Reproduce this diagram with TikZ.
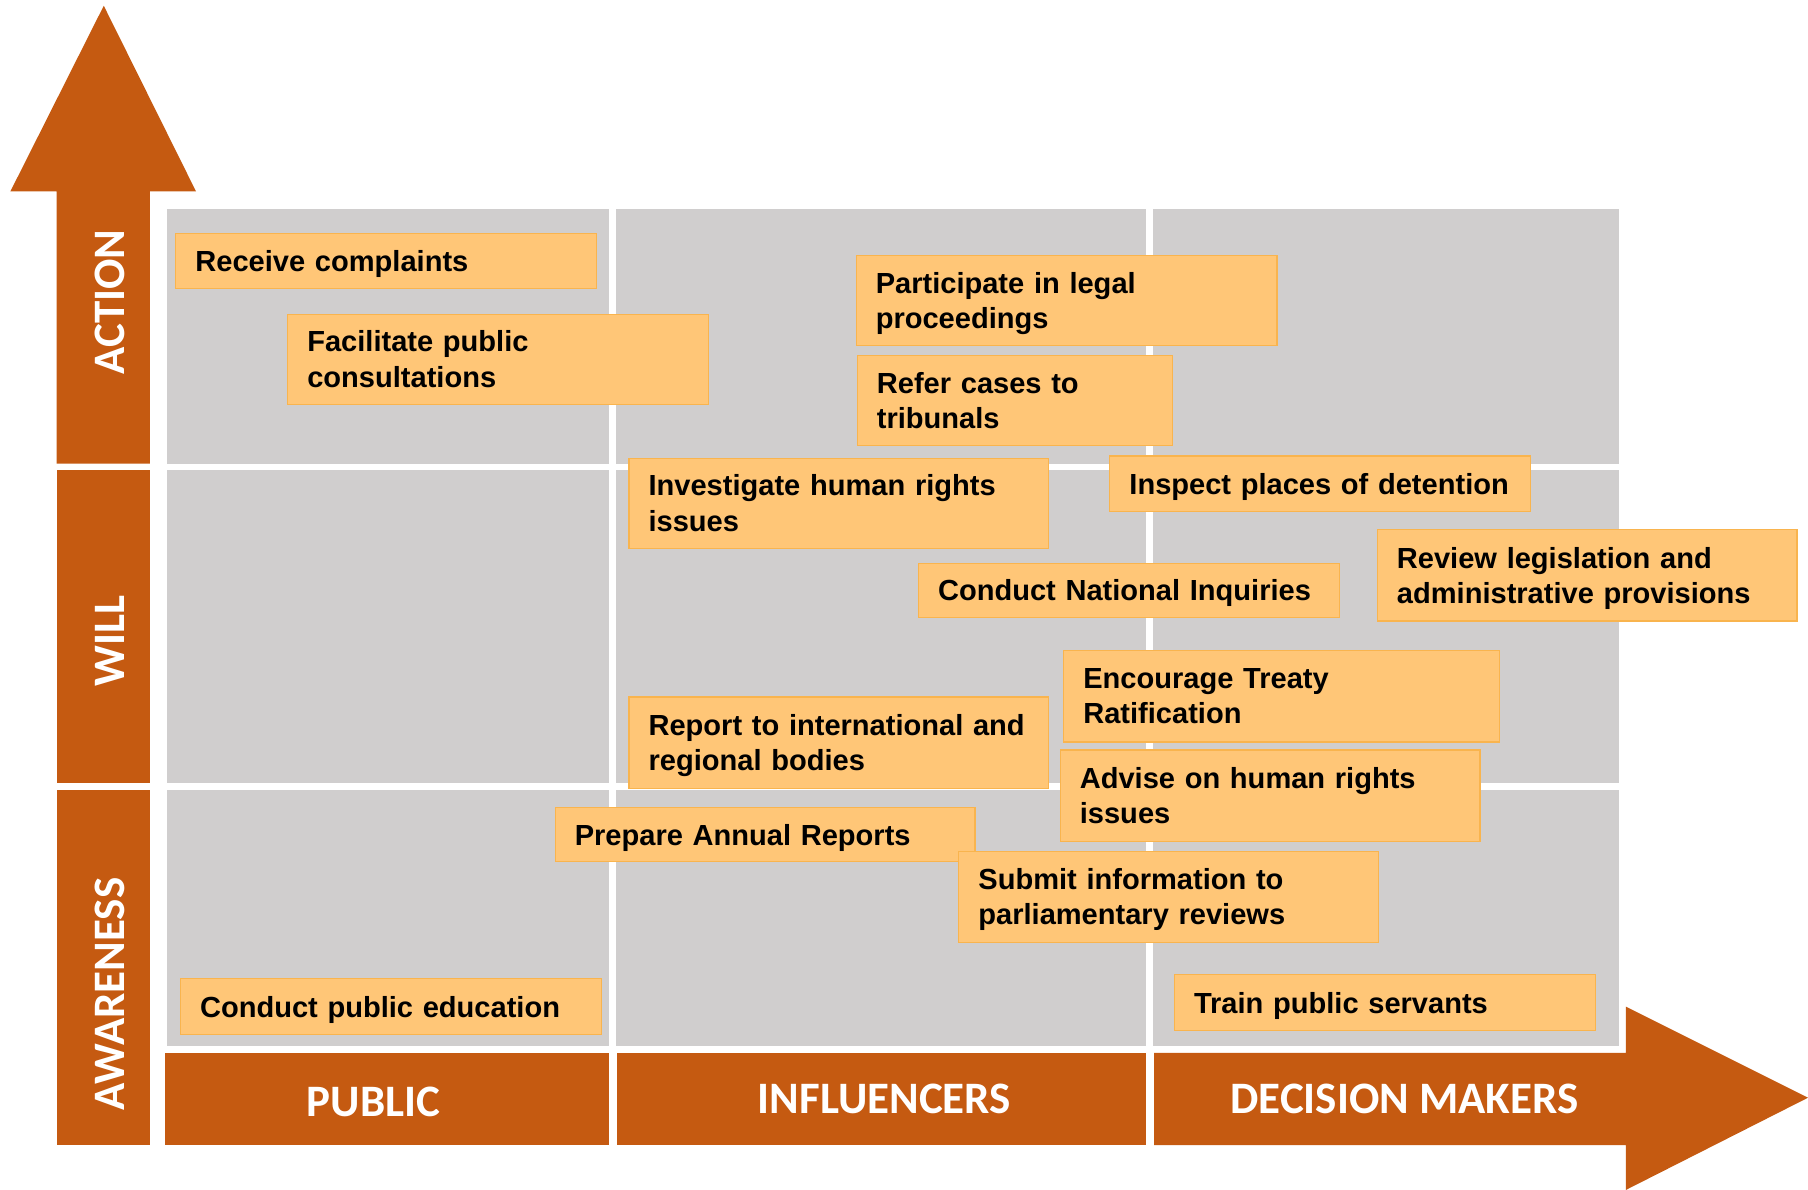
\documentclass[tikz,border=0pt]{standalone}
\usepackage{fontspec}
\setmainfont{Liberation Sans}
\newfontfamily\labfont{Carlito}
\definecolor{arrowor}{HTML}{C55A11}
\definecolor{cellgray}{HTML}{D0CECE}
\definecolor{boxfill}{HTML}{FFC677}
\definecolor{boxline}{HTML}{F9B44E}
\newcommand{\nohyph}{\hyphenpenalty=10000\relax\exhyphenpenalty=10000\relax}
\begin{document}
\begin{tikzpicture}[x=1pt,y=-1pt,
  cell/.style={fill=cellgray},
  band/.style={fill=arrowor},
  actbox/.style={draw=boxline, fill=boxfill, line width=1pt, anchor=north west,
    inner xsep=17pt, inner ysep=0pt, align=left,
    font=\nohyph\fontsize{25.2}{30.5}\selectfont\bfseries},
  oneline/.style={actbox, text depth=0pt},
  twoline/.style={actbox, text depth=31pt},
  axislab/.style={text=white, font=\labfont\fontsize{39}{40}\selectfont\bfseries, inner sep=0pt},
]
\useasboundingbox (0,0) rectangle (1568,1032);
% grid cells
\foreach \xa/\xb in {145/528,534/994,1000/1404}{
  \foreach \ya/\yb in {181/402,408/679,685/907}{
    \fill[cell] (\xa,\ya) rectangle (\xb,\yb);
  }
}
% vertical arrow
\fill[band] (49,402) -- (49,166) -- (9,166) -- (90,5) -- (170,166) -- (130,166) -- (130,402) -- cycle;
\fill[band] (49,408) rectangle (130,679);
\fill[band] (49,685) rectangle (130,993);
% horizontal arrow
\fill[band] (143,913) rectangle (528,993);
\fill[band] (535,913) rectangle (994,993);
\fill[band] (1001,913) -- (1410,913) -- (1410,873) -- (1568,952) -- (1410,1032) -- (1410,993) -- (1001,993) -- cycle;
% axis labels
\node[axislab, rotate=90] (action) at (95,262) {ACTION};
\node[axislab, rotate=90] (will) at (95,556) {WILL};
\node[axislab, rotate=90] (awareness) at (95,862) {AWARENESS};
\node[axislab] (public) at (324,956) {PUBLIC};
\node[axislab] (influencers) at (767,953) {INFLUENCERS};
\node[axislab] (decision) at (1218,953) {DECISION MAKERS};
% activity boxes
\node[oneline, minimum width=365pt, minimum height=48pt, text width=331pt] (receive) at (152,202) {Receive complaints};
\node[twoline, minimum width=365pt, minimum height=78pt, text width=331pt] (facilitate) at (249,272) {Facilitate public\\consultations};
\node[twoline, minimum width=365pt, minimum height=78pt, text width=331pt] (participate) at (742,221) {Participate in legal\\proceedings};
\node[twoline, minimum width=273pt, minimum height=78pt, text width=239pt] (refer) at (743,308) {Refer cases to\\tribunals};
\node[twoline, minimum width=364pt, minimum height=78pt, text width=330pt] (investigate) at (545,397) {Investigate human rights\\issues};
\node[oneline, minimum width=365pt, minimum height=48pt, text width=331pt] (inspect) at (962,395) {Inspect places of detention};
\node[oneline, minimum width=365pt, minimum height=47pt, text width=331pt] (inquiries) at (796,488) {Conduct National Inquiries};
\node[twoline, minimum width=364pt, minimum height=79pt, text width=330pt] (review) at (1194,459) {Review legislation and\\administrative provisions};
\node[twoline, minimum width=378pt, minimum height=79pt, text width=344pt] (treaty) at (922,564) {Encourage Treaty\\Ratification};
\node[twoline, minimum width=364pt, minimum height=79pt, text width=330pt] (report) at (545,604) {Report to international and\\regional bodies};
\node[twoline, minimum width=364pt, minimum height=79pt, text width=330pt] (advise) at (919,650) {Advise on human rights\\issues};
\node[oneline, minimum width=364pt, minimum height=47pt, text width=330pt] (annual) at (481,700) {Prepare Annual Reports};
\node[twoline, minimum width=364pt, minimum height=79pt, text width=330pt] (submit) at (831,738) {Submit information to\\parliamentary reviews};
\node[oneline, minimum width=365pt, minimum height=49pt, text width=331pt] (education) at (156,848) {Conduct public education};
\node[oneline, minimum width=365pt, minimum height=48pt, text width=331pt] (train) at (1018,845) {Train public servants};
\end{tikzpicture}
\end{document}
